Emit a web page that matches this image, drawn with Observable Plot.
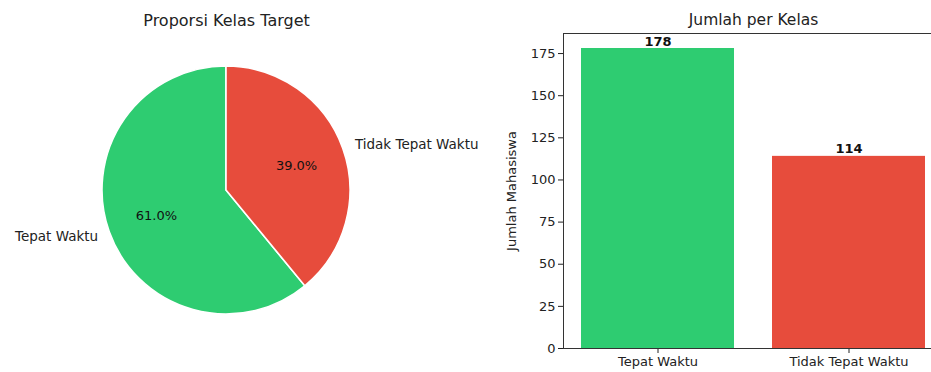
<!DOCTYPE html>
<html><head><meta charset="utf-8">
<script src="https://cdn.jsdelivr.net/npm/d3@7"></script>
<script src="https://cdn.jsdelivr.net/npm/@observablehq/plot@0.6"></script>
<style>
html,body{margin:0;padding:0;background:#fff;overflow:hidden;}
#wrap{position:relative;width:931px;height:372px;overflow:hidden;font-family:"DejaVu Sans";}
#pie{position:absolute;left:0;top:0;width:465px;height:372px}
#bar{position:absolute;left:465px;top:0;width:478px;height:372px}
#wrap svg{max-width:none !important;}
</style></head><body><div id="wrap"><div id="pie"></div><div id="bar"></div></div>
<script>
const categories = ["Tepat Waktu", "Tidak Tepat Waktu"];
const counts = [178, 114];
const colors = ["#2ecc71", "#e74c3c"];
const yTicks = [0, 25, 50, 75, 100, 125, 150, 175];
const pieTitle = "Proporsi Kelas Target";
const barTitle = "Jumlah per Kelas";
const yLabel = "Jumlah Mahasiswa";

const data = categories.map((c, i) => ({cat: c, n: counts[i]}));
const total = d3.sum(counts);
// matplotlib-style pie: startangle 90, counterclockwise
let a0 = 90;
const slices = data.map(d => {
  const sweep = d.n / total * 360;
  const s = {...d, start: a0, end: a0 + sweep, mid: a0 + sweep / 2, pct: d.n / total * 100};
  a0 += sweep;
  return s;
});
const rad = a => a * Math.PI / 180;
const labels = slices.map(s => ({cat: s.cat, x: 1.1 * Math.cos(rad(s.mid)), y: 1.1 * Math.sin(rad(s.mid))}));
const pcts = slices.map(s => ({t: s.pct.toFixed(1) + "%", x: 0.6 * Math.cos(rad(s.mid)), y: 0.6 * Math.sin(rad(s.mid))}));

const color = {domain: categories, range: colors};

function pieMark(index, scales) {
  const cx = scales.x(0), cy = scales.y(0), r = scales.x(1) - scales.x(0);
  const arc = d3.arc().innerRadius(0).outerRadius(r);
  const g = d3.create("svg:g");
  for (const s of slices) {
    g.append("path")
      .attr("transform", `translate(${cx},${cy})`)
      .attr("d", arc({startAngle: rad(90 - s.start), endAngle: rad(90 - s.end)}))
      .attr("fill", scales.color(s.cat))
      .attr("stroke", "#fff")
      .attr("stroke-width", 1.6)
      .attr("stroke-linejoin", "round");
  }
  return g.node();
}

const pie = Plot.plot({
  width: 465, height: 372, margin: 0,
  style: {fontFamily: "DejaVu Sans", fontSize: "13px", color: "#222", background: "transparent", overflow: "visible", maxWidth: "none"},
  x: {domain: [-1, 1], range: [102, 350], axis: null},
  y: {domain: [-1, 1], range: [314, 66], axis: null},
  color,
  marks: [
    pieMark,
    Plot.text(labels.filter(d => d.x < 0), {x: "x", y: "y", text: "cat", textAnchor: "end", fontSize: 13.5, fill: "#222"}),
    Plot.text(labels.filter(d => d.x >= 0), {x: "x", y: "y", text: "cat", textAnchor: "start", fontSize: 13.5, fill: "#222"}),
    Plot.text(pcts, {x: "x", y: "y", text: "t", fontSize: 13, fill: "#111"}),
    Plot.text([pieTitle], {x: [0], y: [1], dy: -46, fontSize: 16, fill: "#222"})
  ]
});
document.getElementById("pie").append(pie);

const bar = Plot.plot({
  width: 478, height: 372, marginLeft: 98, marginRight: 0, marginTop: 33, marginBottom: 24,
  style: {fontFamily: "DejaVu Sans", fontSize: "13px", color: "#222", background: "transparent", overflow: "visible", maxWidth: "none"},
  x: {domain: categories, paddingInner: 0.2, paddingOuter: 0.09, label: null, tickSize: 5, tickPadding: 3},
  y: {domain: [0, d3.max(counts) * 1.05], ticks: yTicks, label: yLabel, labelAnchor: "center", labelOffset: 57, labelArrow: "none", tickSize: 5, tickPadding: 3},
  color,
  marks: [
    Plot.barY(data, {x: "cat", y: "n", fill: "cat"}),
    Plot.text(data, {x: "cat", y: "n", text: d => String(d.n), dy: -3, lineAnchor: "bottom", fontWeight: "bold", fontSize: 13, fill: "#111"}),
    Plot.frame({stroke: "#333"}),
    Plot.text([barTitle], {frameAnchor: "top", lineAnchor: "middle", dy: -13, fontSize: 15.5, fill: "#222"})
  ]
});
document.getElementById("bar").append(bar);
</script>
</body></html>
